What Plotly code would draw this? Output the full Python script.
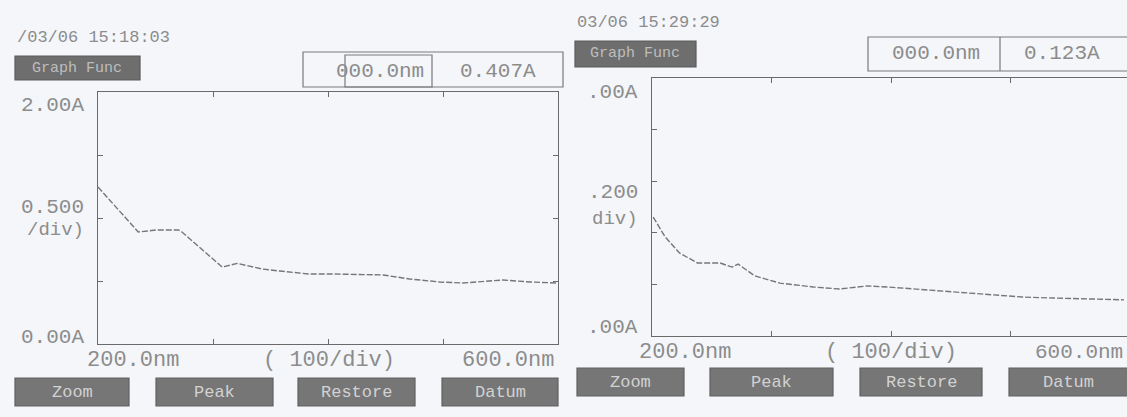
import plotly.graph_objects as go

# ---------------- data ----------------
left_nm = [200, 235, 251, 270, 273, 289, 308, 321, 343, 358, 383, 402, 448, 471, 497, 517, 552, 576, 600]
left_abs = [1.246, 0.889, 0.905, 0.905, 0.889, 0.762, 0.61, 0.64, 0.595, 0.579, 0.556, 0.556,
            0.548, 0.516, 0.492, 0.484, 0.508, 0.492, 0.484]

right_nm = [201, 211, 223, 238, 257, 267, 272, 286, 307, 320, 335, 357, 380, 397, 408,
            449, 485, 510, 536, 558, 572, 595]
right_abs = [0.461, 0.384, 0.322, 0.283, 0.283, 0.267, 0.279, 0.233, 0.205, 0.198, 0.190,
             0.182, 0.194, 0.190, 0.186, 0.171, 0.159, 0.151, 0.147, 0.143, 0.143, 0.140]

left_texts = {"time": "/03/06 15:18:03", "top": "2.00A", "mid": "0.500", "div": "/div)",
              "bot": "0.00A", "nm": "000.0nm", "abs": "0.407A"}
right_texts = {"time": "03/06 15:29:29", "top": ".00A", "mid": ".200", "div": "div)",
               "bot": ".00A", "nm": "000.0nm", "abs": "0.123A"}
x_labels = ["200.0nm", "( 100/div)", "600.0nm"]
buttons = ["Zoom", "Peak", "Restore", "Datum"]

W, H = 1127, 417
BG = "#f4f6fa"
INK = "#8c8c8c"
LINE = "#6a6a6a"
FONT = "Liberation Mono"


def px(x):
    return x / W


def py(y):
    return 1 - y / H


fig = go.Figure()
fig.add_trace(go.Scatter(x=left_nm, y=left_abs, mode="lines", xaxis="x", yaxis="y",
                         line=dict(color="#767676", width=1.4, dash="6px,2px"),
                         showlegend=False, hoverinfo="skip"))
fig.add_trace(go.Scatter(x=right_nm, y=right_abs, mode="lines", xaxis="x2", yaxis="y2",
                         line=dict(color="#767676", width=1.4, dash="6px,2px"),
                         showlegend=False, hoverinfo="skip"))

axis_common = dict(showgrid=False, zeroline=False, showticklabels=False, ticks="inside",
                   ticklen=5, tickcolor=LINE, showline=True, linecolor=LINE, linewidth=1.2,
                   fixedrange=True)

fig.update_layout(
    width=W, height=H,
    margin=dict(l=0, r=0, t=0, b=0),
    paper_bgcolor=BG, plot_bgcolor=BG,
    xaxis=dict(domain=[px(98), px(558)], range=[200, 600], tickvals=[300, 400, 500],
               mirror="ticks", anchor="y", **axis_common),
    yaxis=dict(domain=[py(344), py(92)], range=[0, 2], tickvals=[0.5, 1.0, 1.5],
               mirror="ticks", anchor="x", **axis_common),
    xaxis2=dict(domain=[px(652), 1.0], range=[200, 200 + (W - 652) / 119.5 * 100],
                tickvals=[300, 400, 500], mirror="ticks", anchor="y2", **axis_common),
    yaxis2=dict(domain=[py(336), py(78)], range=[0, 1], tickvals=[0.2, 0.4, 0.6, 0.8],
                mirror=False, anchor="x2", **axis_common),
)

annotations = []
shapes = []


def text(x, y, s, size, anchor="center", color=INK):
    annotations.append(dict(x=px(x), y=py(y), xref="paper", yref="paper", text=s,
                            showarrow=False, xanchor=anchor, yanchor="middle",
                            font=dict(family=FONT, size=size, color=color)))


def rect(x0, y0, x1, y1, fill=None, line=LINE, width=1.2):
    shapes.append(dict(type="rect", xref="paper", yref="paper",
                       x0=px(x0), x1=px(x1), y0=py(y1), y1=py(y0),
                       fillcolor=fill if fill else "rgba(0,0,0,0)",
                       line=dict(color=line, width=width), layer="above"))


# ---- left panel decorations ----
t = left_texts
text(15, 38, t["time"], 17, "left")
rect(15, 56, 140, 80, fill="#6e6e6e", line="#5a5a5a")
text(77, 68, "Graph Func", 15, "center", "#bdbdbd")
rect(303, 52, 563, 87, line="#7a7a7a")
rect(345, 55, 432, 87, line="#7a7a7a")
text(380, 71, t["nm"], 21, "center")
text(498, 71, t["abs"], 21, "center")
text(86, 105, t["top"], 21, "right")
text(86, 207, t["mid"], 21, "right")
text(86, 230, t["div"], 19, "right")
text(86, 337, t["bot"], 21, "right")
text(85, 360, x_labels[0], 22, "left")
text(329, 360, x_labels[1], 22, "center")
text(556, 360, x_labels[2], 22, "right")
left_btn_x = [(15, 129), (156, 273), (298, 415), (442, 558)]
for (a, b), lab in zip(left_btn_x, buttons):
    rect(a, 378, b, 406, fill="#767676", line="#606060")
    text((a + b) / 2, 392, lab, 17, "center", "#d2d2d2")

# ---- right panel decorations ----
t = right_texts
text(575, 22, t["time"], 17, "left")
rect(575, 41, 696, 67, fill="#6e6e6e", line="#5a5a5a")
text(635, 54, "Graph Func", 15, "center", "#bdbdbd")
rect(868, 37, 1140, 71, line="#7a7a7a")
shapes.append(dict(type="line", xref="paper", yref="paper", x0=px(1000), x1=px(1000),
                   y0=py(71), y1=py(37), line=dict(color="#7a7a7a", width=1.2)))
text(936, 54, t["nm"], 21, "center")
text(1062, 54, t["abs"], 21, "center")
text(640, 93, t["top"], 21, "right")
text(640, 192, t["mid"], 21, "right")
text(640, 219, t["div"], 19, "right")
text(640, 327, t["bot"], 21, "right")
text(637, 352, x_labels[0], 22, "left")
text(891, 352, x_labels[1], 22, "center")
text(1125, 352, x_labels[2], 21, "right")
right_btn_x = [(577, 684), (710, 833), (860, 982), (1009, 1140)]
for (a, b), lab in zip(right_btn_x, buttons):
    rect(a, 368, b, 396, fill="#767676", line="#606060")
    text((a + 1127) / 2 if b > 1127 else (a + b) / 2, 382, lab, 17, "center", "#d2d2d2")

fig.update_layout(annotations=annotations, shapes=shapes)
fig.write_html("out.html", config={"displayModeBar": False},
               post_script="document.body.style.margin='0px';document.body.style.overflow='hidden';")
